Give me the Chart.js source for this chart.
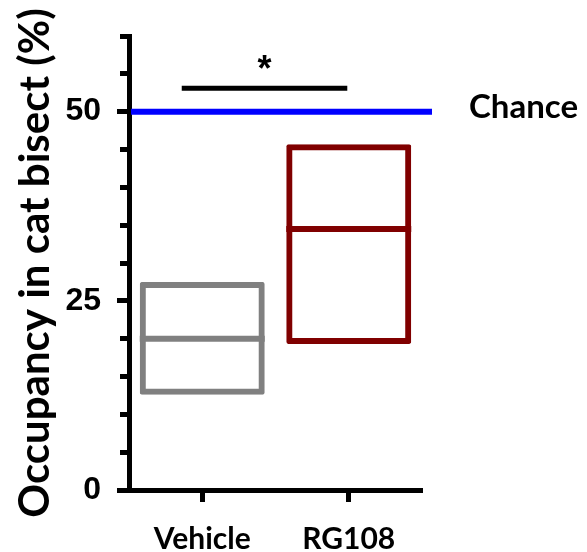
<!DOCTYPE html>
<html>
<head>
<meta charset="utf-8">
<script src="https://cdn.jsdelivr.net/npm/chart.js@4/dist/chart.umd.min.js"></script>
<style>
  html, body { margin: 0; padding: 0; background: #ffffff; }
  #wrap { width: 587px; height: 552px; }
</style>
</head>
<body>
<div id="wrap"><canvas id="c" width="587" height="552"></canvas></div>
<script>
// ---- data ----
const categories = ['Vehicle', 'RG108'];
const boxLow = [12.6, 19.3];      // lower edge of each box (%)
const boxHigh = [27.5, 45.7];     // upper edge of each box (%)
const medians = [20.0, 34.5];     // line inside each box (%)
const boxColors = ['#808080', '#800000'];
const chanceLevel = 50;
const chanceLabel = 'Chance';
const yMajorTicks = [0, 25, 50];
const yMinorStep = 5;
const yMin = 0, yMax = 60;
const sigFrom = -0.14, sigTo = 0.99, sigLevel = 53.1, sigText = '*';
const yTitle = 'Occupancy in cat bisect (%)';

const floatData = categories.map((c, i) => [boxLow[i], boxHigh[i]]);

const overlay = {
  id: 'overlay',
  afterDatasetsDraw(chart) {
    const ctx = chart.ctx;
    const xs = chart.scales.x, ys = chart.scales.y;
    const area = chart.chartArea;
    const meta = chart.getDatasetMeta(0);
    ctx.save();
    // median lines
    meta.data.forEach((bar, i) => {
      const p = bar.getProps(['x', 'width'], true);
      const y = ys.getPixelForValue(medians[i]);
      ctx.strokeStyle = boxColors[i];
      ctx.lineWidth = 6;
      ctx.beginPath();
      ctx.moveTo(p.x - p.width / 2, y);
      ctx.lineTo(p.x + p.width / 2, y);
      ctx.stroke();
    });
    // chance line
    const yc = ys.getPixelForValue(chanceLevel);
    ctx.strokeStyle = '#0000ff';
    ctx.lineWidth = 6;
    ctx.beginPath();
    ctx.moveTo(area.left + 2, yc);
    ctx.lineTo(area.right + 10, yc);
    ctx.stroke();
    ctx.fillStyle = '#000000';
    ctx.font = 'bold 33px Lato';
    ctx.textAlign = 'left';
    ctx.textBaseline = 'middle';
    ctx.fillText(chanceLabel, area.right + 47, yc - 4);
    // significance bar
    const ysig = ys.getPixelForValue(sigLevel);
    const x1 = xs.getPixelForValue(sigFrom), x2 = xs.getPixelForValue(sigTo);
    ctx.strokeStyle = '#000000';
    ctx.lineWidth = 5;
    ctx.beginPath();
    ctx.moveTo(x1, ysig);
    ctx.lineTo(x2, ysig);
    ctx.stroke();
    ctx.font = 'bold 36px "Liberation Sans"';
    ctx.textAlign = 'center';
    ctx.textBaseline = 'alphabetic';
    ctx.fillText(sigText, (x1 + x2) / 2, ysig - 7);
    ctx.restore();
  }
};

new Chart(document.getElementById('c'), {
  type: 'bar',
  data: {
    labels: categories,
    datasets: [{
      data: floatData,
      backgroundColor: 'rgba(0,0,0,0)',
      borderColor: boxColors,
      borderWidth: 6,
      borderSkipped: false,
      borderRadius: 2,
      barPercentage: 0.853,
      categoryPercentage: 1.0,
      yAxisID: 'y'
    }]
  },
  plugins: [overlay],
  options: {
    responsive: false,
    devicePixelRatio: 1,
    animation: false,
    layout: { padding: { left: 0, top: 36, right: 165, bottom: 0 } },
    plugins: { legend: { display: false }, tooltip: { enabled: false } },
    scales: {
      x: {
        offset: true,
        grid: { offset: false, drawOnChartArea: false, tickLength: 12, tickWidth: 5, tickColor: '#000' },
        border: { display: true, color: '#000', width: 5 },
        ticks: { color: '#000', padding: 19, font: { family: 'Lato', weight: 'bold', size: 30 } },
        afterFit(s) { s.height = 62; }
      },
      y: {
        min: yMin, max: yMax,
        weight: 1,
        grid: { drawOnChartArea: false, tickLength: 12, tickWidth: 5, tickColor: '#000' },
        border: { display: true, color: '#000', width: 5 },
        ticks: {
          stepSize: 25, includeBounds: false, color: '#000', padding: 16,
          font: { family: '"Liberation Sans"', weight: 'bold', size: 32 },
          callback: v => (yMajorTicks.includes(v) ? String(v) : '')
        },
        title: {
          display: true, text: yTitle, color: '#000',
          font: { family: 'Lato', weight: 'bold', size: 42, lineHeight: 1.2 },
          padding: { top: 10, bottom: 0 }
        },
        afterFit(s) { s.width = 129; }
      },
      yMinor: {
        position: 'left',
        min: yMin, max: yMax,
        weight: 0,
        grid: { drawOnChartArea: false, tickLength: 9, tickWidth: 5, tickColor: '#000' },
        border: { display: false },
        ticks: { display: false, stepSize: yMinorStep },
        afterFit(s) { s.width = 0; }
      }
    }
  }
});
</script>
</body>
</html>
